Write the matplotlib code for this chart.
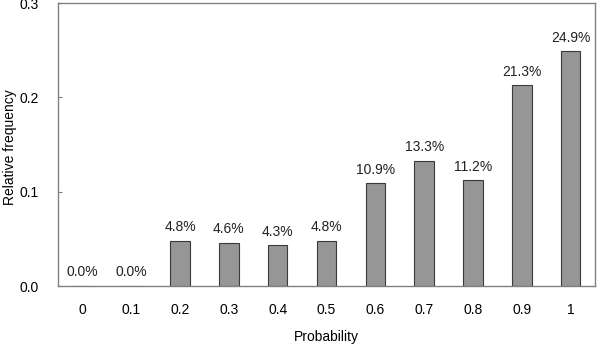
import matplotlib.pyplot as plt
import numpy as np

plt.rcParams['font.family'] = ['Liberation Sans', 'DejaVu Sans']

probs = ['0', '0.1', '0.2', '0.3', '0.4', '0.5', '0.6', '0.7', '0.8', '0.9', '1']
freq = [0.0, 0.0, 0.048, 0.046, 0.043, 0.048, 0.109, 0.133, 0.112, 0.213, 0.249]

fig = plt.figure(figsize=(6.01, 3.49), dpi=100)
ax = fig.add_axes([0.0965, 0.1805, 0.8935, 0.8105])

x = np.arange(len(probs))
ax.bar(x, freq, width=0.4, color='#969696', edgecolor='#3a3a3a', linewidth=0.8)

# percentage labels above the bars
for xi, v in zip(x, freq):
    ax.text(xi, v + 0.007, '%.1f%%' % (v * 100), ha='center', va='bottom',
            fontsize=10, color='#222222')

ax.set_xlim(-0.5, len(probs) - 0.5)
ax.set_ylim(0, 0.3)
ax.set_xticks(x)
ax.set_xticklabels(probs)
ax.set_yticks([0, 0.1, 0.2, 0.3])
ax.set_yticklabels(['0.0', '0.1', '0.2', '0.3'])
ax.tick_params(axis='x', length=0, pad=12, labelsize=10)
ax.tick_params(axis='y', direction='in', length=3, pad=14, labelsize=10, color='#808080')
for s in ax.spines.values():
    s.set_color('#808080')
    s.set_linewidth(1.0)

ax.set_xlabel('Probability', fontsize=10)
ax.set_ylabel('Relative frequency', fontsize=10)
ax.xaxis.set_label_coords(0.5, -0.155)
ax.yaxis.set_label_coords(-0.077, 0.49)

plt.savefig('out.png', dpi=100)
